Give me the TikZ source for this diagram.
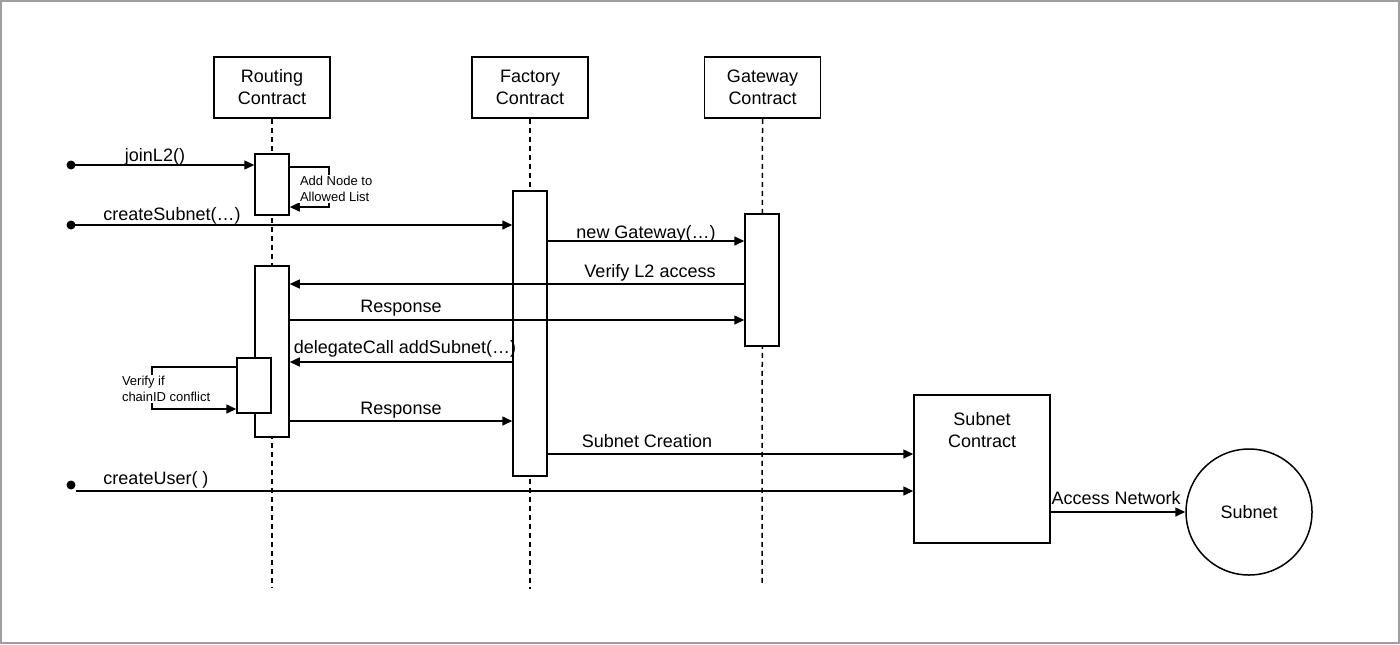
\documentclass[tikz,border=0pt]{standalone}
\usepackage{fontspec}
\setmainfont{Liberation Sans}
\usetikzlibrary{arrows.meta,calc}
\begin{document}
\begin{tikzpicture}[x=0.5pt,y=-0.5pt,
  every node/.style={font=\fontsize{9}{11}\selectfont},
  actor/.style={draw,line width=0.75pt,minimum width=58pt,minimum height=30.5pt,align=center,inner sep=0pt,fill=white},
  actbar/.style={draw,line width=0.75pt,fill=white,minimum width=17pt,inner sep=0pt},
  life/.style={line width=0.75pt,dash pattern=on 2.5pt off 2pt},
  msg/.style={line width=0.75pt,-{Triangle[length=5pt,width=4.5pt]}},
  lbl/.style={anchor=base,inner sep=0pt},
  small/.style={font=\fontsize{6.5}{8}\selectfont,align=left,inner sep=0.8pt,fill=white},
  startdot/.style={circle,fill=black,inner sep=0pt,minimum size=4.5pt}
]
\useasboundingbox (0,0) rectangle (1400,644);
\draw[line width=1pt,color=black!38] (1,1) rectangle (1399,643);

% actors
\node[actor] (rc) at (272,87.5) {Routing\\Contract};
\node[actor] (fc) at (530,87.5) {Factory\\Contract};
\node[actor] (gc) at (762.5,87.5) {Gateway\\Contract};

% lifelines
\coordinate (rcend) at (272,588);
\coordinate (fcend) at (530,589);
\coordinate (gcend) at (762,583);
\draw[life] (rc.south) -- (rcend);
\draw[life] (fc.south) -- (fcend);
\draw[life] (gc.south) -- (gcend);

% activation bars
\node[actbar,minimum height=30.5pt] (r1) at (272,184.5) {};
\node[actbar,minimum height=85.5pt] (r2) at (272,351.5) {};
\node[actbar,minimum height=27.5pt] (r3) at (254,385.5) {};
\node[actbar,minimum height=142.5pt] (f1) at (530,333.5) {};
\node[actbar,minimum height=66pt] (g1) at (762,280) {};

% subnet contract and subnet
\node[draw,line width=0.75pt,minimum width=68pt,minimum height=74pt,inner sep=0pt] (sc) at (982,469) {};
\node[align=center,anchor=north,inner sep=0pt] at (982,412) {Subnet\\Contract};
\node[draw,circle,line width=0.75pt,minimum size=63pt,inner sep=0pt] (sn) at (1249,512) {Subnet};

% start dots
\node[startdot] (d1) at (71,165) {};
\node[startdot] (d2) at (71,225) {};
\node[startdot] (d3) at (71,485) {};
\coordinate (d3s) at (76,491);

% messages
\draw[msg] (d1.center) -- (d1 -| r1.west);
\node[lbl] at (155,161) {joinL2()};

\draw[msg] (r1.east |- 0,167) -- (329,167) -- (329,207) -- (r1.east |- 0,207);
\node[small,anchor=west] at (298,189) {Add Node to\\Allowed List};

\draw[msg] (d2.center) -- (d2 -| f1.west);
\node[lbl] at (172,220) {createSubnet(…)};

\draw[msg] (f1.east |- 0,241) -- (g1.west |- 0,241);
\node[lbl] at (646,238) {new Gateway(…)};

\draw[msg] (g1.west |- 0,284) -- (r2.east |- 0,284);
\node[lbl] at (650,277) {Verify L2 access};

\draw[msg] (r2.east |- 0,320) -- (g1.west |- 0,320);
\node[lbl] at (401,312) {Response};

\draw[msg] (f1.west |- 0,362) -- (r2.east |- 0,362);
\node[lbl] at (405,353) {delegateCall addSubnet(…)};

\draw[msg] (r3.west |- 0,367) -- (152,367) -- (152,409) -- (r3.west |- 0,409);
\node[small,anchor=west] at (120,389) {Verify if\\chainID conflict};

\draw[msg] (r2.east |- 0,421) -- (f1.west |- 0,421);
\node[lbl] at (401,414) {Response};

\draw[msg] (f1.east |- 0,454) -- (sc.west |- 0,454);
\node[lbl] at (647,447) {Subnet Creation};

\draw[msg] (d3s) -- (d3s -| sc.west);
\node[lbl] at (156,484) {createUser( )};

\draw[msg] (sc.east |- sn.west) -- (sn.west);
\node[lbl] at (1116,504) {Access Network};
\end{tikzpicture}
\end{document}
